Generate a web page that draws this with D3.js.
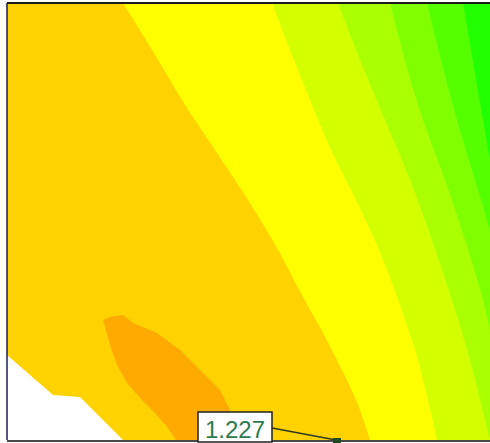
<!DOCTYPE html>
<html>
<head>
<meta charset="utf-8">
<script src="https://cdn.jsdelivr.net/npm/d3@7"></script>
<style>
  html, body { margin: 0; padding: 0; background: #ffffff; }
  svg { display: block; }
</style>
</head>
<body>
<svg id="chart" width="490" height="443"></svg>
<script>
// Model extent (m): horizontal distance and elevation
const xExtent = [0, 48.3];
const yExtent = [0, 43.7];

// Contour band fills, from the lowest safety factor to the highest
const bandColors = ["#ffaa00", "#ffd200", "#ffff00", "#d4ff00", "#aaff00", "#80ff00", "#55ff00", "#22ff00"];

// Boundaries between successive bands, [x, elevation]
const edge12 = [[11.6,43.7],[14.8,38.5],[17.8,33.5],[20.8,29.0],[24.1,24.0],[27.1,19.0],[29.6,14.3],[31.6,10.7],[33.5,7.0],[35.1,3.5],[36.3,0]];
const edge23 = [[26.5,43.7],[28.3,39.0],[30.3,34.0],[32.4,29.0],[34.9,24.0],[37.2,19.0],[39.1,14.0],[40.8,9.0],[42.1,4.0],[43.0,0]];
const edge34 = [[33.1,43.7],[35.3,38.0],[37.8,32.0],[40.3,26.0],[42.5,20.0],[44.5,14.0],[46.3,8.0],[47.8,2.0],[48.3,0]];
const edge45 = [[38.3,43.7],[41.6,32.0],[43.8,26.0],[45.8,20.0],[47.6,14.0],[48.3,11.0]];
const edge56 = [[42.0,43.7],[45.0,32.0],[46.8,26.0],[48.3,21.0]];
const edge67 = [[45.6,43.7],[47.6,32.0],[48.3,28.0]];

// Lowest-value pocket near the toe
const minPocket = [[9.6,12.0],[10.3,12.3],[11.6,12.5],[12.6,11.7],[15.0,10.7],[17.3,9.0],[19.3,7.0],[21.3,5.0],[22.3,3.0],[22.6,0],[16.9,0],[16.1,1.2],[14.8,2.7],[13.3,4.2],[12.0,5.7],[11.0,7.5],[10.3,9.5],[9.8,11.3]];

// Area outside the model (below the ground surface line)
const outside = [[0,8.5],[4.6,4.5],[7.3,4.3],[11.6,0],[0,0]];

// Critical slip centre and its safety factor
const criticalPoint = [32.9, 0];
const criticalFS = "1.227";

const svg = d3.select("#chart");
const plot = { left: 7, top: 3, right: 490, bottom: 440 };

const x = d3.scaleLinear().domain(xExtent).range([plot.left, plot.right]);
const y = d3.scaleLinear().domain(yExtent).range([plot.bottom, plot.top]);

svg.append("defs").append("clipPath").attr("id", "plotClip")
  .append("rect")
  .attr("x", plot.left).attr("y", plot.top)
  .attr("width", plot.right - plot.left).attr("height", plot.bottom - plot.top);

const g = svg.append("g").attr("clip-path", "url(#plotClip)");

const smooth = d3.line().x(d => x(d[0])).y(d => y(d[1])).curve(d3.curveMonotoneY);
const straight = d3.line().x(d => x(d[0])).y(d => y(d[1]));

// Highest band covers the whole plot, then each boundary paints the area to its left
g.append("rect")
  .attr("x", x(xExtent[0])).attr("y", y(yExtent[1]))
  .attr("width", x(xExtent[1]) - x(xExtent[0]))
  .attr("height", y(yExtent[0]) - y(yExtent[1]))
  .attr("fill", bandColors[7]);

const edges = [edge67, edge56, edge45, edge34, edge23, edge12];
const leftColors = [bandColors[6], bandColors[5], bandColors[4], bandColors[3], bandColors[2], bandColors[1]];

edges.forEach((edge, i) => {
  const last = edge[edge.length - 1];
  let d = smooth(edge);
  if (last[1] > yExtent[0]) d += `L${x(xExtent[1])},${y(yExtent[0])}`;
  d += `L${x(xExtent[0])},${y(yExtent[0])}L${x(xExtent[0])},${y(yExtent[1])}Z`;
  g.append("path").attr("d", d).attr("fill", leftColors[i]);
});

g.append("path").attr("d", straight(minPocket) + "Z").attr("fill", bandColors[0]);
g.append("path").attr("d", straight(outside) + "Z").attr("fill", "#ffffff");

// Frame
svg.append("line").attr("x1", plot.left).attr("x2", plot.right)
  .attr("y1", plot.top).attr("y2", plot.top)
  .attr("stroke", "#1b1b1b").attr("stroke-width", 2);
svg.append("line").attr("x1", plot.left).attr("x2", plot.left)
  .attr("y1", plot.top).attr("y2", plot.bottom)
  .attr("stroke", "#1d1d55").attr("stroke-width", 1.5);
svg.append("line").attr("x1", plot.left).attr("x2", plot.right)
  .attr("y1", plot.bottom + 1).attr("y2", plot.bottom + 1)
  .attr("stroke", "#4a4a4a").attr("stroke-width", 2);

// Safety factor label with leader to the critical point
const labelBox = { x: 198, y: 412, w: 74, h: 30 };
svg.append("line")
  .attr("x1", labelBox.x + labelBox.w).attr("y1", labelBox.y + 16)
  .attr("x2", x(criticalPoint[0])).attr("y2", y(criticalPoint[1]))
  .attr("stroke", "#2f3a1f").attr("stroke-width", 1.5);
svg.append("rect")
  .attr("x", x(criticalPoint[0]) - 3).attr("y", y(criticalPoint[1]) - 2)
  .attr("width", 8).attr("height", 5)
  .attr("fill", "#1f4a22");
svg.append("rect")
  .attr("x", labelBox.x).attr("y", labelBox.y)
  .attr("width", labelBox.w).attr("height", labelBox.h)
  .attr("fill", "#ffffff").attr("stroke", "#222222").attr("stroke-width", 1.5);
svg.append("text")
  .attr("x", labelBox.x + labelBox.w / 2).attr("y", labelBox.y + 26)
  .attr("text-anchor", "middle")
  .attr("font-family", "Liberation Sans, Arial, sans-serif")
  .attr("font-size", 24)
  .attr("fill", "#2e7b4e")
  .text(criticalFS);
</script>
</body>
</html>
